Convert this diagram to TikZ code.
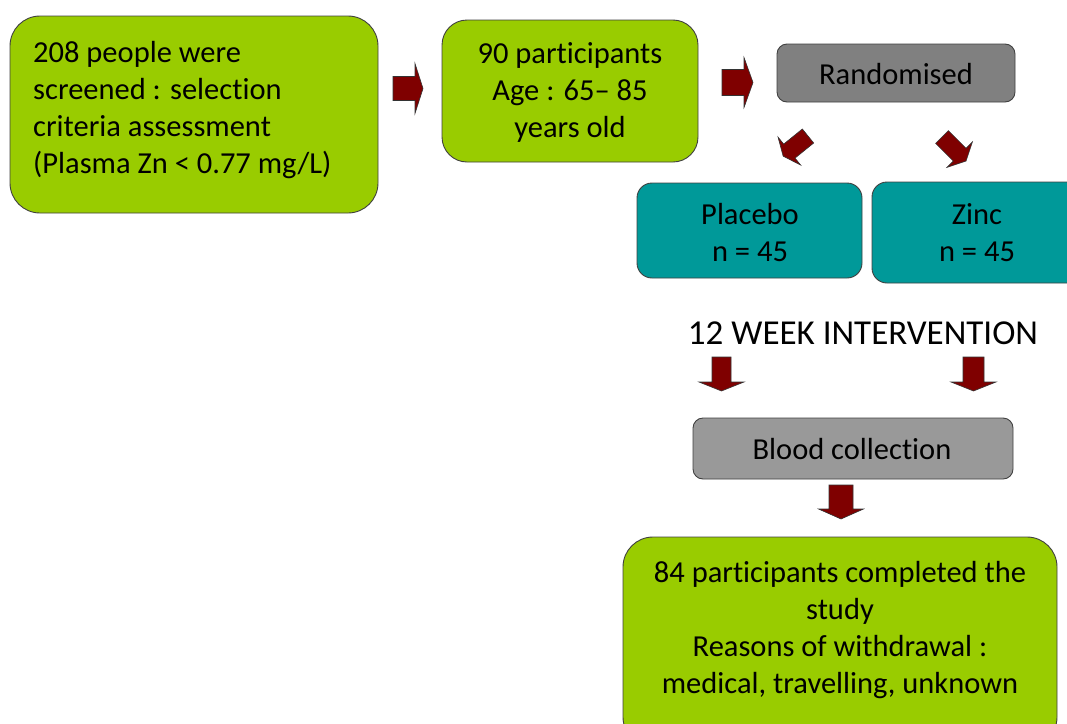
\documentclass[tikz,border=0pt]{standalone}
\usepackage{fontspec}
\setmainfont{Carlito}[Ligatures=NoCommon]
\definecolor{boxgreen}{HTML}{99CC00}
\definecolor{boxteal}{HTML}{009999}
\definecolor{boxgrayA}{HTML}{808080}
\definecolor{boxgrayB}{HTML}{999999}
\definecolor{arrred}{HTML}{7F0000}
\definecolor{edgegray}{HTML}{404040}
\tikzset{
  boxsty/.style={draw=edgegray, line width=0.9pt, inner sep=0pt},
  txtsty/.style={inner sep=0pt, font=\fontsize{30.5}{37}\selectfont, text=black},
  arrsty/.style={draw=black!80, line width=0.6pt, fill=arrred, line join=miter},
}
% tail x, tail y, angle, length, shaft width, head length, head width
\newcommand\blockarr[7]{%
  \begin{scope}[shift={(#1,#2)}, rotate=#3]
    \draw[arrsty] (0,-#5/2) -- ({#4-#6},-#5/2) -- ({#4-#6},-#7/2) -- (#4,0)
      -- ({#4-#6},#7/2) -- ({#4-#6},#5/2) -- (0,#5/2) -- cycle;
  \end{scope}}
\begin{document}
\begin{tikzpicture}[x=1pt, y=-1pt]
\useasboundingbox (0,0) rectangle (1067,723);
\clip (0,0) rectangle (1067,723);
% boxes
\node[boxsty, fill=boxgreen, rounded corners=30pt, minimum width=368pt, minimum height=197pt] (screen) at (194,114.5) {};
\node[boxsty, fill=boxgreen, rounded corners=25pt, minimum width=256pt, minimum height=142pt] (part) at (570,91) {};
\node[boxsty, fill=boxgrayA, rounded corners=10pt, minimum width=238pt, minimum height=58pt] (rand) at (896,73) {};
\node[boxsty, fill=boxteal, rounded corners=15pt, minimum width=225pt, minimum height=95pt] (plac) at (749.5,230.5) {};
\node[boxsty, fill=boxteal, rounded corners=15pt, minimum width=210pt, minimum height=101pt] (zinc) at (977,232.5) {};
\node[boxsty, fill=boxgrayB, rounded corners=10pt, minimum width=320pt, minimum height=61pt] (blood) at (853,448.5) {};
\node[boxsty, fill=boxgreen, rounded corners=30pt, minimum width=434pt, minimum height=210pt] (final) at (840,642) {};
% texts
\node[txtsty, align=left, anchor=west] (screentxt) at (33,110) {208 people were\\screened : selection\\criteria assessment\\(Plasma Zn < 0.77 mg/L)};
\node[txtsty, align=center] (parttxt) at (570,92.5) {90 participants\\Age : 65– 85\\years old};
\node[txtsty] (randtxt) at (896,74) {Randomised};
\node[txtsty, align=center] (plactxt) at (750,232.5) {Placebo\\n = 45};
\node[txtsty, align=center] (zinctxt) at (977,232.5) {Zinc\\n = 45};
\node[inner sep=0pt, font=\fontsize{35}{42}\selectfont] (interv) at (863,333) {12 WEEK INTERVENTION};
\node[txtsty] (bloodtxt) at (852,449) {Blood collection};
\node[txtsty, align=center] (finaltxt) at (840,630) {84 participants completed the\\study\\Reasons of withdrawal :\\medical, travelling, unknown};
% block arrows
\blockarr{393}{88.5}{0}{30}{24}{8}{50}
\blockarr{722}{82.5}{0}{31}{26}{9}{50}
\blockarr{808}{136}{-141}{32}{18}{8}{36}
\blockarr{942}{137}{-45}{34}{18}{9}{36}
\blockarr{721.5}{357}{-90}{34}{19}{9}{45}
\blockarr{973.5}{357}{-90}{34}{21}{9}{45}
\blockarr{841}{485}{-90}{34}{24}{10}{45}
\end{tikzpicture}
\end{document}
